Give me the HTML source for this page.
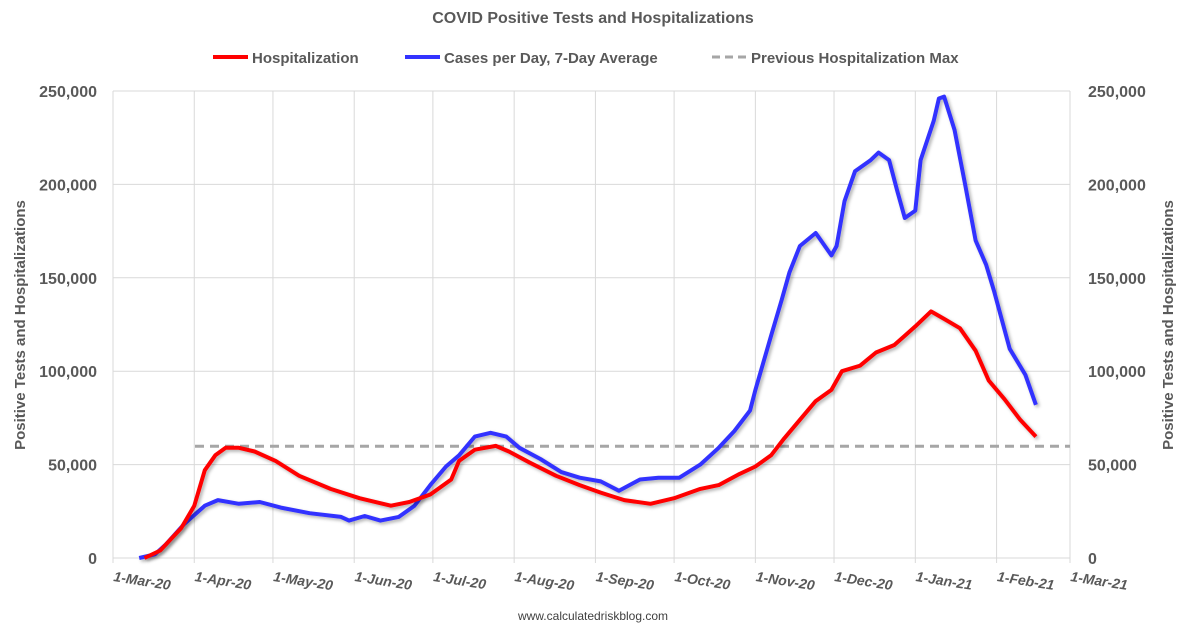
<!DOCTYPE html>
<html><head><meta charset="utf-8"><style>
body{margin:0;background:#fff;width:1186px;height:633px;overflow:hidden;font-family:"Liberation Sans",sans-serif}
text{font-family:"Liberation Sans",sans-serif}
</style></head><body>
<svg id="chart" width="1186" height="633">
<defs><filter id="sh" x="-5%" y="-5%" width="110%" height="110%"><feDropShadow dx="2" dy="2" stdDeviation="1.5" flood-color="#000" flood-opacity="0.3"/></filter></defs>
<text x="593" y="23" text-anchor="middle" font-size="16" font-weight="bold" fill="#595959">COVID Positive Tests and Hospitalizations</text>
<g>
<line x1="213" y1="57" x2="248" y2="57" stroke="#f00" stroke-width="4"/><text x="252" y="63" font-size="15" font-weight="bold" fill="#595959">Hospitalization</text>
<line x1="405" y1="57" x2="440" y2="57" stroke="#33f" stroke-width="4"/><text x="444" y="63" font-size="15" font-weight="bold" fill="#595959">Cases per Day, 7-Day Average</text>
<line x1="712" y1="57" x2="747" y2="57" stroke="#a6a6a6" stroke-width="3" stroke-dasharray="8,5"/><text x="751" y="63" font-size="15" font-weight="bold" fill="#595959">Previous Hospitalization Max</text>
</g>
<g id="grid"></g><g id="axes"></g><g id="series"></g>
<text x="593" y="620" text-anchor="middle" font-size="12" fill="#404040">www.calculatedriskblog.com</text>
<text transform="translate(25,325) rotate(-90)" text-anchor="middle" font-size="15" font-weight="bold" fill="#595959">Positive Tests and Hospitalizations</text>
<text transform="translate(1173,325) rotate(-90)" text-anchor="middle" font-size="15" font-weight="bold" fill="#595959">Positive Tests and Hospitalizations</text>
</svg>
<script>
const monthLabels=["1-Mar-20","1-Apr-20","1-May-20","1-Jun-20","1-Jul-20","1-Aug-20","1-Sep-20","1-Oct-20","1-Nov-20","1-Dec-20","1-Jan-21","1-Feb-21","1-Mar-21"];
const monthDays=[0,31,61,92,122,153,184,214,245,275,306,337,365];
const yTicks=[0,50000,100000,150000,200000,250000];
const hospDays=[12,18,26,31,35,39,43,48,54,62,71,83,94,106,113,121,129,132,138,146,151,159,169,178,186,195,205,214,224,231,239,245,251,256,262,268,274,278,285,291,298,302,306,312,317,323,329,334,340,346,352];
const hospVals=[0,4000,16000,28000,47000,55000,59000,59000,57000,52000,44000,37000,32000,28000,30000,34000,42000,52000,58000,60000,57000,51000,44000,39000,35000,31000,29000,32000,37000,39000,45000,49000,55000,64000,74000,84000,90000,100000,103000,110000,114000,119000,124000,132000,128000,123000,111000,95000,85000,74000,65000];
const caseDays=[10,16,20,27,35,40,48,56,64,75,87,90,96,102,109,115,121,127,132,138,144,150,155,163,171,178,186,193,201,208,216,224,231,237,243,245,251,255,258,262,268,270,274,276,279,283,289,292,296,299,302,306,308,313,315,317,321,325,329,333,336,342,348,352];
const caseVals=[0,2000,7000,18000,28000,31000,29000,30000,27000,24000,22000,20000,22500,20000,22000,28000,39000,49000,55000,65000,67000,65000,59000,53000,46000,43000,41000,36000,42000,43000,43000,50000,59000,68000,79000,90000,119000,138000,153000,167000,174000,170000,162000,167000,191000,207000,213000,217000,213000,197000,182000,186000,213000,234000,246000,247000,229000,200000,170000,157000,143000,112000,98000,82000];
const prevMax=[59800];
const X0=113,X1=1070,Y0=558,Y1=91;
const xs=d=>X0+d*(X1-X0)/365, ys=v=>Y0-v*(Y0-Y1)/250000;
const NS="http://www.w3.org/2000/svg";
function mk(p,t,a){const e=document.createElementNS(NS,t);for(const k in a)e.setAttribute(k,a[k]);document.getElementById(p).appendChild(e);return e;}
yTicks.forEach(v=>{
 const g=mk('grid','line',{x1:X0,x2:X1,y1:ys(v),y2:ys(v),stroke:'#d9d9d9','stroke-width':1});
 
 
 const l=mk('axes','text',{x:97,y:ys(v)+6,'text-anchor':'end','font-size':16,'font-weight':'bold',fill:'#595959'});l.textContent=v.toLocaleString('en-US');
 
 
 const r=mk('axes','text',{x:1088,y:ys(v)+6,'font-size':16,'font-weight':'bold',fill:'#595959'});r.textContent=v.toLocaleString('en-US');
 
 
});
monthDays.forEach((d,i)=>{
 const g=mk('grid','line',{x1:xs(d),x2:xs(d),y1:Y1,y2:Y0+5,stroke:'#d9d9d9','stroke-width':1});
 
 
 const t=mk('axes','text',{transform:`translate(${xs(d)},${Y0+23}) rotate(9)`,'font-size':14,'font-weight':'bold','font-style':'italic',fill:'#595959'});t.textContent=monthLabels[i];
 
 
});
const pm=mk('series','line',{x1:195,x2:X1,y1:ys(prevMax[0]),y2:ys(prevMax[0]),stroke:'#a6a6a6','stroke-width':3,'stroke-dasharray':'9,6'});


function path(days,vals,col,name){
 const d=days.map((x,i)=>(i?'L':'M')+xs(x).toFixed(1)+','+ys(vals[i]).toFixed(1)).join('');
 const p=mk('series','path',{d:d,fill:'none',stroke:col,'stroke-width':4,'stroke-linejoin':'round',filter:'url(#sh)'});
 
 
}
path(caseDays,caseVals,'#33f','cases-line');
path(hospDays,hospVals,'#f00','hospitalization-line');
</script>
</body></html>
